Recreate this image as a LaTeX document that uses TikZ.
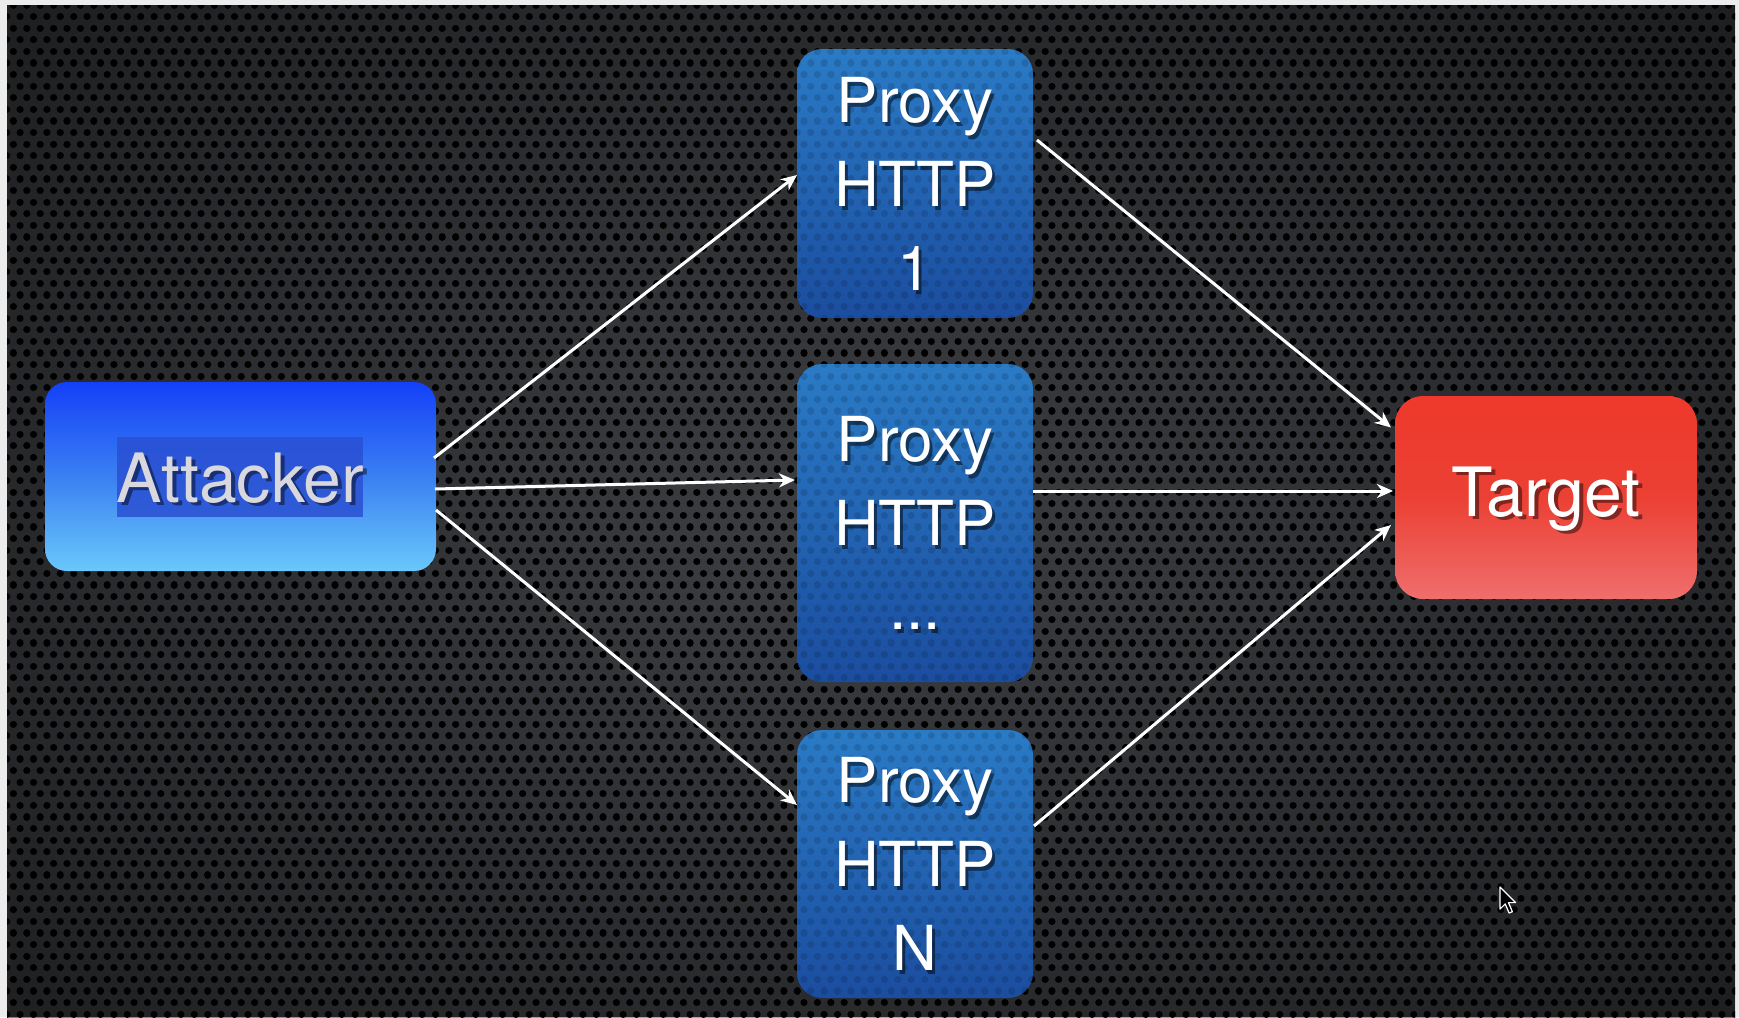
\documentclass[tikz,border=0pt]{standalone}
\usepackage{fontspec}
\setmainfont{TeX Gyre Heros}
\usetikzlibrary{arrows.meta,calc,fadings}
\definecolor{frame}{HTML}{ECECEC}
\definecolor{metal}{HTML}{3D3F43}
\definecolor{proxytop}{HTML}{2A7BC6}
\definecolor{proxybot}{HTML}{1B4D9F}
\definecolor{atttop}{HTML}{1440F8}
\definecolor{attmid}{HTML}{3A80F2}
\definecolor{attbot}{HTML}{6AC8FB}
\definecolor{attsel}{HTML}{2A50D2}
\definecolor{attext}{HTML}{D8D8DE}
\definecolor{tgttop}{HTML}{EE392C}
\definecolor{tgtmid}{HTML}{EC4034}
\definecolor{tgtbot}{HTML}{EF6E6C}
\tikzfading[name=vign, inner color=transparent!100, outer color=transparent!50]
\newcommand\mydotrows[1]{%
  \foreach \j in {0,...,88}{%
    \pgfmathsetmacro\yy{5+\j*11.6}%
    \pgfmathsetmacro\ph{mod(\j,2)*3.35}%
    \draw[dotline, draw opacity=#1, dash phase=\ph pt] (0,\yy) -- (1739,\yy);
  }}
\tikzset{
  dotline/.style={draw=black, line width=3.6pt, line cap=round, dash pattern=on 0.01pt off 6.69pt},
  box/.style={inner sep=0pt, outer sep=0pt, draw=none},
  proxybox/.style={box, rounded corners=12.5pt, minimum width=118pt, top color=proxytop, bottom color=proxybot},
  lbl/.style={text=white, align=center, inner sep=0pt, font=\fontsize{31}{42}\selectfont},
  lblshadow/.style={lbl, text=black, text opacity=0.5},
  biglbl/.style={inner sep=0pt, font=\fontsize{34}{40}\selectfont},
  conn/.style={draw=white, line width=1.5pt, -{Stealth[length=8pt,width=7pt,inset=2.5pt]}},
}
\begin{document}
\begin{tikzpicture}[x=0.5pt,y=-0.5pt]
\useasboundingbox (0,0) rectangle (1739,1017);
\fill[frame] (0,0) rectangle (1739,1017);
\fill[metal] (7,5) rectangle (1735,1017);
\begin{scope}
  \clip (7,5) rectangle (1735,1017);
  \mydotrows{1}
  \fill[black, path fading=vign] (-300,-200) rectangle (2000,1250);
\end{scope}

% boxes
\node[box, rounded corners=11pt, minimum width=195.5pt, minimum height=94.5pt,
      top color=atttop, bottom color=attbot, middle color=attmid] (att) at (240.5,476.5) {};
\node[proxybox, minimum height=134.5pt] (p1) at (915,183.5) {};
\node[proxybox, minimum height=159pt] (p2) at (915,523) {};
\node[proxybox, minimum height=134pt] (p3) at (915,864) {};
\node[box, rounded corners=14pt, minimum width=151pt, minimum height=101.5pt,
      top color=tgttop, bottom color=tgtbot, middle color=tgtmid] (tgt) at (1546,497.5) {};

% faint texture on proxies
\foreach \b in {p1,p2,p3}{
  \begin{scope}
    \clip[rounded corners=12.5pt] (\b.south west) rectangle (\b.north east);
    \mydotrows{0.13}
  \end{scope}
}

% attacker selection highlight
\fill[attsel, opacity=0.85] (117,437) rectangle (363,517);

% labels (with drop shadows)
\node[lblshadow] (p1s) at ($(p1)+(3,4)$) {Proxy\\HTTP\\1};
\node[lbl] (p1t) at (p1) {Proxy\\HTTP\\1};
\node[lblshadow] (p2s) at ($(p2)+(3,4)$) {Proxy\\HTTP\\...};
\node[lbl] (p2t) at (p2) {Proxy\\HTTP\\...};
\node[lblshadow] (p3s) at ($(p3)+(3,4)$) {Proxy\\HTTP\\N};
\node[lbl] (p3t) at (p3) {Proxy\\HTTP\\N};
\node[biglbl, text=black, text opacity=0.45] (atts) at ($(att)+(4,5)$) {Attacker};
\node[biglbl, text=attext] (attt) at ($(att)+(0,2)$) {Attacker};
\node[biglbl, text=black, text opacity=0.45] (tgts) at ($(tgt)+(4,5)$) {Target};
\node[biglbl, text=white] (tgtt) at ($(tgt)+(0,2)$) {Target};

% connectors
\draw[conn] ($(att.east)+(-2,-18.5)$) -- ($(p1.west)+(0,-8.5)$);
\draw[conn] ($(att.east)+(-1,12.5)$) -- ($(p2.west)+(-2,-43)$);
\draw[conn] ($(att.east)+(0,33.5)$) -- ($(p3.west)+(0,-59)$);
\draw[conn] ($(p1.east)+(4,-43.5)$) -- ($(tgt.west)+(-4,-70)$);
\draw[conn] ($(p2.east)+(0,-32)$) -- ($(tgt.west)+(-2,-6.5)$);
\draw[conn] ($(p3.east)+(1,-38)$) -- ($(tgt.west)+(-4,27.5)$);

% mouse cursor
\begin{scope}[shift={(1500,887)}, scale=1.3]
  \draw[fill=black, draw=white, line width=0.6pt, line join=round]
    (0,0) -- (0,17) -- (4,13) -- (7,20) -- (9.5,19) -- (6.5,12) -- (12,12) -- cycle;
\end{scope}
\end{tikzpicture}
\end{document}
